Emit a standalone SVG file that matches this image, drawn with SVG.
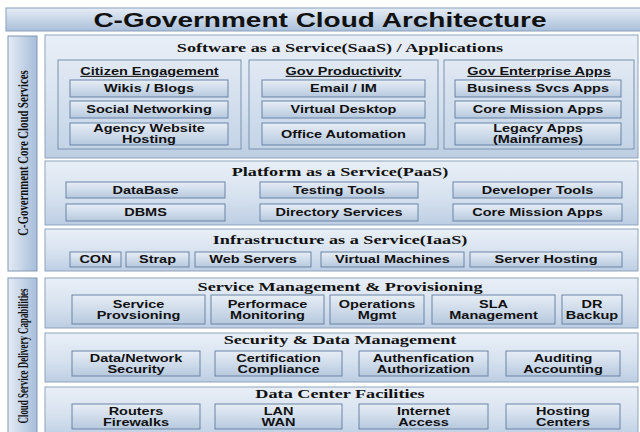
<svg xmlns="http://www.w3.org/2000/svg" width="640" height="432" viewBox="0 0 640 432">
  <defs>
    <linearGradient id="gPanel" x1="0" y1="0" x2="0" y2="1">
      <stop offset="0" stop-color="#e9eff7"/>
      <stop offset="0.55" stop-color="#d7e2ef"/>
      <stop offset="1" stop-color="#bdcee3"/>
    </linearGradient>
    <linearGradient id="gGroup" x1="0" y1="0" x2="0" y2="1">
      <stop offset="0" stop-color="#e1e9f3"/>
      <stop offset="1" stop-color="#c4d4e7"/>
    </linearGradient>
    <linearGradient id="gBox" x1="0" y1="0" x2="0" y2="1">
      <stop offset="0" stop-color="#e7eef6"/>
      <stop offset="1" stop-color="#b7c9de"/>
    </linearGradient>
    <linearGradient id="gTitle" x1="0" y1="0" x2="0" y2="1">
      <stop offset="0" stop-color="#e6edf5"/>
      <stop offset="1" stop-color="#a9bfda"/>
    </linearGradient>
    <linearGradient id="gSide" x1="0" y1="0" x2="1" y2="0">
      <stop offset="0" stop-color="#e4ebf4"/>
      <stop offset="1" stop-color="#a6bdda"/>
    </linearGradient>
  </defs>
  <style>
    .panel { fill: url(#gPanel); stroke: #8fa3bd; stroke-width: 1; }
    .group { fill: url(#gGroup); stroke: #7b92ae; stroke-width: 1; }
    .box { fill: url(#gBox); stroke: #6a84a6; stroke-width: 1; }
    .titlebar { fill: url(#gTitle); stroke: #8aa0bb; stroke-width: 1; }
    .side { fill: url(#gSide); stroke: #8197b2; stroke-width: 1; }
    text { fill: #111; }
    .main { font-family: "Liberation Sans", Arial, sans-serif; font-weight: bold; font-size: 20px; text-anchor: middle; }
    .head { font-family: "Liberation Serif", "Times New Roman", serif; font-weight: bold; font-size: 13px; text-anchor: middle; }
    .vert { font-family: "Liberation Serif", "Times New Roman", serif; font-weight: bold; font-size: 10.75px; text-anchor: middle; }
    .lbl { font-family: "Liberation Sans", Arial, sans-serif; font-weight: bold; font-size: 10.5px; text-anchor: middle; }
    .grp { font-family: "Liberation Sans", Arial, sans-serif; font-weight: bold; font-size: 10.5px; text-anchor: middle; text-decoration: underline; }
  </style>

  <rect width="640" height="432" fill="#ffffff"/>

  <!-- heading bar -->
  <g id="title">
    <rect class="titlebar" x="6" y="8" width="640" height="23"/>
    <text class="main" transform="translate(320,26.8) scale(1.4,1)">C-Government Cloud Architecture</text>
  </g>

  <!-- side captions -->
  <g id="side-core">
    <rect class="side" x="8" y="36" width="29" height="235"/>
    <text class="vert" transform="translate(22.5,153) scale(1.4,1) rotate(-90)" y="3.6">C-Government Core Cloud Services</text>
  </g>
  <g id="side-delivery">
    <rect class="side" x="8" y="278" width="29" height="160"/>
    <text class="vert" transform="translate(22.5,356) scale(1.4,1) rotate(-90)" y="3.6" textLength="135" lengthAdjust="spacingAndGlyphs">Cloud Service Delivery Capabilities</text>
  </g>

  <!-- SaaS layer -->
  <g id="saas">
    <rect class="panel" x="45" y="35" width="593" height="123"/>
    <text class="head" transform="translate(340,52) scale(1.4,1)">Software as a Service(SaaS) / Applications</text>

    <g id="citizen">
      <rect class="group" x="58" y="60" width="183" height="89"/>
      <text class="grp" transform="translate(149.5,75) scale(1.38,1)">Citizen Engagement</text>
      <rect class="box" x="70" y="80" width="158" height="17"/>
      <text class="lbl" transform="translate(149,92.3) scale(1.38,1)">Wikis / Blogs</text>
      <rect class="box" x="70" y="101" width="158" height="17"/>
      <text class="lbl" transform="translate(149,113.3) scale(1.38,1)">Social Networking</text>
      <rect class="box" x="70" y="123" width="158" height="22"/>
      <text class="lbl" transform="translate(149,132.3) scale(1.38,1)">Agency Website</text>
      <text class="lbl" transform="translate(149,143.3) scale(1.38,1)">Hosting</text>
    </g>

    <g id="productivity">
      <rect class="group" x="249" y="60" width="189" height="89"/>
      <text class="grp" transform="translate(343.5,75) scale(1.38,1)">Gov Productivity</text>
      <rect class="box" x="262" y="80" width="163" height="17"/>
      <text class="lbl" transform="translate(343.5,92.3) scale(1.38,1)">Email / IM</text>
      <rect class="box" x="262" y="101" width="163" height="17"/>
      <text class="lbl" transform="translate(343.5,113.3) scale(1.38,1)">Virtual Desktop</text>
      <rect class="box" x="262" y="123" width="163" height="22"/>
      <text class="lbl" transform="translate(343.5,137.8) scale(1.38,1)">Office Automation</text>
    </g>

    <g id="enterprise">
      <rect class="group" x="444" y="60" width="190" height="89"/>
      <text class="grp" transform="translate(539,75) scale(1.38,1)">Gov Enterprise Apps</text>
      <rect class="box" x="455" y="80" width="166" height="17"/>
      <text class="lbl" transform="translate(538,92.3) scale(1.38,1)">Business Svcs Apps</text>
      <rect class="box" x="455" y="101" width="166" height="17"/>
      <text class="lbl" transform="translate(538,113.3) scale(1.38,1)">Core Mission Apps</text>
      <rect class="box" x="455" y="123" width="166" height="22"/>
      <text class="lbl" transform="translate(538,132.3) scale(1.38,1)">Legacy Apps</text>
      <text class="lbl" transform="translate(538,143.3) scale(1.38,1)">(Mainframes)</text>
    </g>
  </g>

  <!-- PaaS layer -->
  <g id="paas">
    <rect class="panel" x="45" y="161" width="593" height="64"/>
    <text class="head" transform="translate(340,176) scale(1.4,1)">Platform as a Service(PaaS)</text>
    <rect class="box" x="66" y="182" width="159" height="16"/>
    <text class="lbl" transform="translate(145.5,193.8) scale(1.38,1)">DataBase</text>
    <rect class="box" x="260" y="182" width="158" height="16"/>
    <text class="lbl" transform="translate(339,193.8) scale(1.38,1)">Testing Tools</text>
    <rect class="box" x="453" y="182" width="169" height="16"/>
    <text class="lbl" transform="translate(537.5,193.8) scale(1.38,1)">Developer Tools</text>
    <rect class="box" x="66" y="204" width="159" height="17"/>
    <text class="lbl" transform="translate(145.5,216.3) scale(1.38,1)">DBMS</text>
    <rect class="box" x="260" y="204" width="158" height="17"/>
    <text class="lbl" transform="translate(339,216.3) scale(1.38,1)">Directory Services</text>
    <rect class="box" x="453" y="204" width="169" height="17"/>
    <text class="lbl" transform="translate(537.5,216.3) scale(1.38,1)">Core Mission Apps</text>
  </g>

  <!-- IaaS layer -->
  <g id="iaas">
    <rect class="panel" x="45" y="229" width="593" height="42"/>
    <text class="head" transform="translate(340,244) scale(1.4,1)">Infrastructure as a Service(IaaS)</text>
    <rect class="box" x="70" y="252" width="51" height="15"/>
    <text class="lbl" transform="translate(95.5,263.3) scale(1.38,1)">CON</text>
    <rect class="box" x="126" y="252" width="63" height="15"/>
    <text class="lbl" transform="translate(157.5,263.3) scale(1.38,1)">Strap</text>
    <rect class="box" x="195" y="252" width="116" height="15"/>
    <text class="lbl" transform="translate(253,263.3) scale(1.38,1)">Web Servers</text>
    <rect class="box" x="321" y="252" width="143" height="15"/>
    <text class="lbl" transform="translate(392.5,263.3) scale(1.38,1)">Virtual Machines</text>
    <rect class="box" x="470" y="252" width="152" height="15"/>
    <text class="lbl" transform="translate(546,263.3) scale(1.38,1)">Server Hosting</text>
  </g>

  <!-- Service management layer -->
  <g id="service-mgmt">
    <rect class="panel" x="45" y="278" width="593" height="50"/>
    <text class="head" transform="translate(340,291) scale(1.4,1)">Service Management &amp; Provisioning</text>
    <rect class="box" x="72" y="295" width="133" height="29"/>
    <text class="lbl" transform="translate(138.5,307.5) scale(1.38,1)">Service</text>
    <text class="lbl" transform="translate(138.5,319) scale(1.38,1)">Provsioning</text>
    <rect class="box" x="211" y="295" width="113" height="29"/>
    <text class="lbl" transform="translate(267.5,307.5) scale(1.38,1)">Performace</text>
    <text class="lbl" transform="translate(267.5,319) scale(1.38,1)">Monitoring</text>
    <rect class="box" x="330" y="295" width="94" height="29"/>
    <text class="lbl" transform="translate(377,307.5) scale(1.38,1)">Operations</text>
    <text class="lbl" transform="translate(377,319) scale(1.38,1)">Mgmt</text>
    <rect class="box" x="432" y="295" width="123" height="29"/>
    <text class="lbl" transform="translate(493.5,307.5) scale(1.38,1)">SLA</text>
    <text class="lbl" transform="translate(493.5,319) scale(1.38,1)">Management</text>
    <rect class="box" x="562" y="295" width="60" height="29"/>
    <text class="lbl" transform="translate(592,307.5) scale(1.38,1)">DR</text>
    <text class="lbl" transform="translate(592,319) scale(1.38,1)">Backup</text>
  </g>

  <!-- Security layer -->
  <g id="security">
    <rect class="panel" x="45" y="333" width="593" height="49"/>
    <text class="head" transform="translate(340,344) scale(1.4,1)">Security &amp; Data Management</text>
    <rect class="box" x="72" y="351" width="128" height="25"/>
    <text class="lbl" transform="translate(136,361.5) scale(1.38,1)">Data/Network</text>
    <text class="lbl" transform="translate(136,373) scale(1.38,1)">Security</text>
    <rect class="box" x="215" y="351" width="127" height="25"/>
    <text class="lbl" transform="translate(278.5,361.5) scale(1.38,1)">Certification</text>
    <text class="lbl" transform="translate(278.5,373) scale(1.38,1)">Compliance</text>
    <rect class="box" x="359" y="351" width="129" height="25"/>
    <text class="lbl" transform="translate(423.5,361.5) scale(1.38,1)">Authenfication</text>
    <text class="lbl" transform="translate(423.5,373) scale(1.38,1)">Authorization</text>
    <rect class="box" x="506" y="351" width="114" height="25"/>
    <text class="lbl" transform="translate(563,361.5) scale(1.38,1)">Auditing</text>
    <text class="lbl" transform="translate(563,373) scale(1.38,1)">Accounting</text>
  </g>

  <!-- Data center layer -->
  <g id="data-center">
    <rect class="panel" x="45" y="387" width="593" height="50"/>
    <text class="head" transform="translate(340,398) scale(1.4,1)">Data Center Facilities</text>
    <rect class="box" x="72" y="404" width="128" height="25"/>
    <text class="lbl" transform="translate(136,414.5) scale(1.38,1)">Routers</text>
    <text class="lbl" transform="translate(136,426) scale(1.38,1)">Firewalks</text>
    <rect class="box" x="215" y="404" width="127" height="25"/>
    <text class="lbl" transform="translate(278.5,414.5) scale(1.38,1)">LAN</text>
    <text class="lbl" transform="translate(278.5,426) scale(1.38,1)">WAN</text>
    <rect class="box" x="359" y="404" width="129" height="25"/>
    <text class="lbl" transform="translate(423.5,414.5) scale(1.38,1)">Internet</text>
    <text class="lbl" transform="translate(423.5,426) scale(1.38,1)">Access</text>
    <rect class="box" x="506" y="404" width="114" height="25"/>
    <text class="lbl" transform="translate(563,414.5) scale(1.38,1)">Hosting</text>
    <text class="lbl" transform="translate(563,426) scale(1.38,1)">Centers</text>
  </g>
</svg>
